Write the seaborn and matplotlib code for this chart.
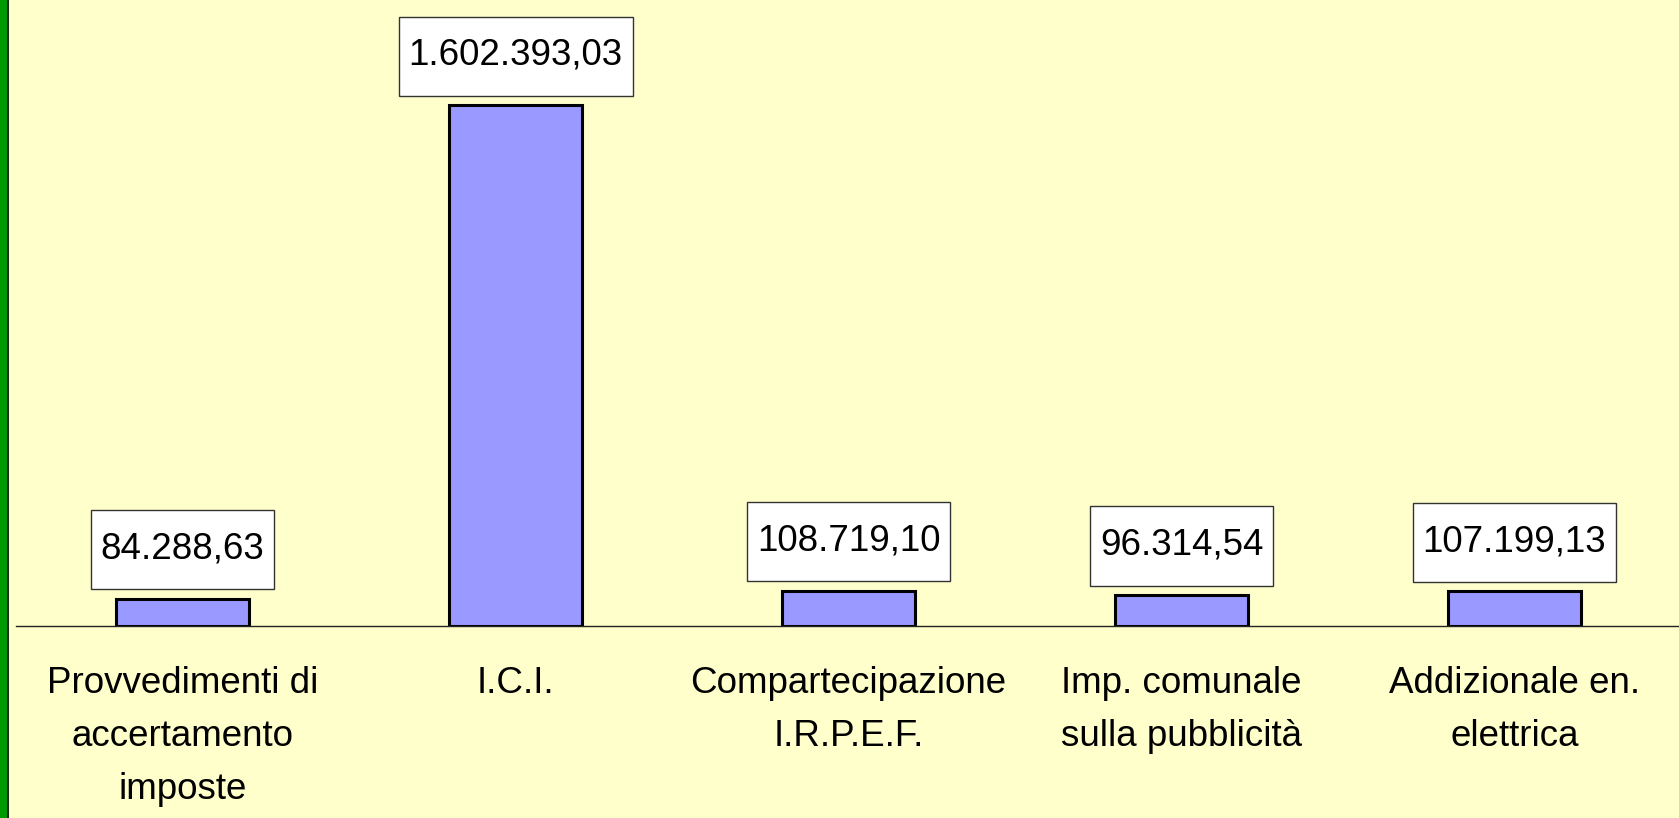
import numpy as np
import pandas as pd
import seaborn as sns
import matplotlib.pyplot as plt
from matplotlib.path import Path
from matplotlib.patches import Rectangle

categories = ["Provvedimenti di\naccertamento\nimposte", "I.C.I.",
              "Compartecipazione\nI.R.P.E.F.", "Imp. comunale\nsulla pubblicità",
              "Addizionale en.\nelettrica"]
values = [84288.63, 1602393.03, 108719.10, 96314.54, 107199.13]


def it_format(v):
    # Italian number format: 1.602.393,03
    s = f"{v:,.2f}"
    return s.replace(",", "X").replace(".", ",").replace("X", ".")


def label_box(x0, y0, width, height, mutation_size):
    # more room below the text than above, like the Excel label boxes
    px = 0.27 * mutation_size
    top = 0.58 * mutation_size
    bot = 0.62 * mutation_size
    x1, y1 = x0 - px, y0 - bot
    x2, y2 = x0 + width + px, y0 + height + top
    return Path([(x1, y1), (x2, y1), (x2, y2), (x1, y2), (x1, y1)],
                [Path.MOVETO, Path.LINETO, Path.LINETO, Path.LINETO, Path.CLOSEPOLY])


df = pd.DataFrame({"voce": categories, "importo": values})

sns.set_style("white")
plt.rcParams['font.family'] = ['Liberation Sans', 'DejaVu Sans']

W, H = 1679, 818
fig = plt.figure(figsize=(W / 100, H / 100), dpi=100)
fig.patch.set_facecolor("#FFFFCC")
ax = fig.add_axes([16 / W, (H - 626) / H, 1665 / W, 626 / H])
ax.set_facecolor("#FFFFCC")

sns.barplot(data=df, x="voce", y="importo", color="#9999FF", saturation=1,
            width=0.4, edgecolor="black", linewidth=2.2, ax=ax)

ax.set_xlim(-0.5, 4.5)
ax.set_ylim(0, 1925310)

for i, v in enumerate(values):
    ax.annotate(it_format(v), (i, v), xytext=(0, 32), textcoords="offset pixels",
                ha="center", va="bottom", fontsize=26.5, color="black",
                bbox=dict(boxstyle=label_box, facecolor="white",
                          edgecolor="#333333", linewidth=1.0))

for s in ["top", "right", "left"]:
    ax.spines[s].set_visible(False)
ax.spines["bottom"].set_color("#222222")
ax.spines["bottom"].set_linewidth(1.0)

ax.set_yticks([])
ax.set_xlabel("")
ax.set_ylabel("")
ax.set_xticks(range(len(categories)))
ax.set_xticklabels(categories, fontsize=26.5, linespacing=1.66, color="black")
ax.set_xticks(np.arange(-0.5, len(categories), 1.0), minor=True)
ax.tick_params(axis="x", which="major", length=0, pad=29)
ax.tick_params(axis="x", which="minor", length=7, width=1.0, color="#222222", direction="out")

# green band at the left edge of the slide
fig.patches.append(Rectangle((0, 0), 7 / W, 1, transform=fig.transFigure,
                             facecolor="#009900", edgecolor="none", zorder=5))
fig.patches.append(Rectangle((7 / W, 0), 2 / W, 1, transform=fig.transFigure,
                             facecolor="#1a2a1a", edgecolor="none", zorder=5))

fig.savefig("out.png", dpi=100, facecolor=fig.get_facecolor())
